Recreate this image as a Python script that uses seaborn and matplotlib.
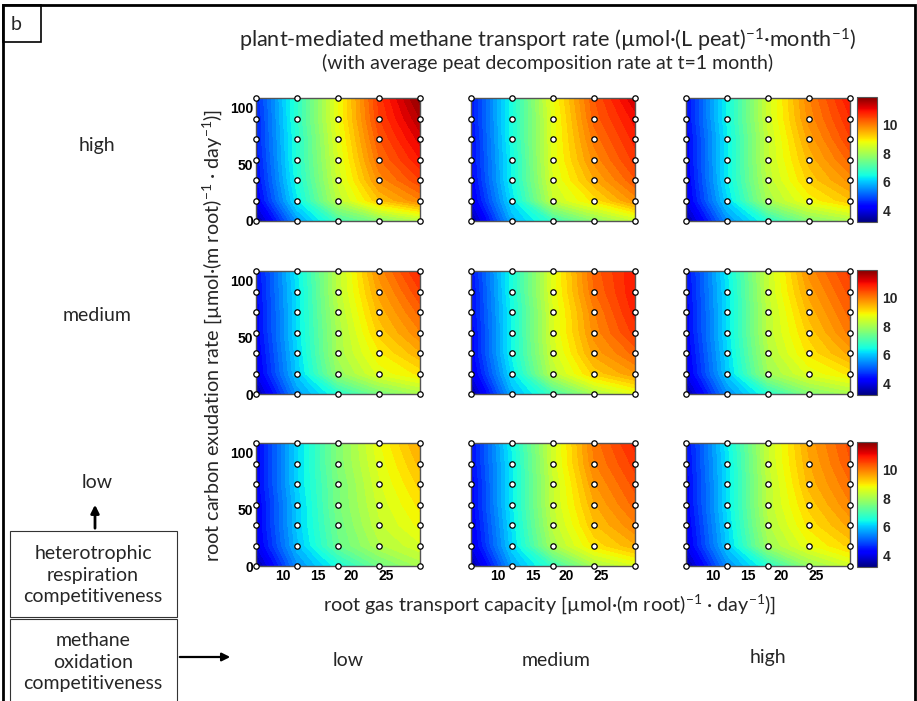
import numpy as np
import pandas as pd
import matplotlib
matplotlib.use("Agg")
import matplotlib.pyplot as plt
import seaborn as sns
from matplotlib.patches import Rectangle, FancyArrowPatch
from matplotlib.colors import Normalize
from matplotlib.cm import ScalarMappable

sns.set_style("white")
plt.rcParams['font.family'] = ['Lato', 'DejaVu Sans']
plt.rcParams['mathtext.default'] = 'regular'

# grid of the model runs
gas_capacity = [6, 12, 18, 24, 30]
exudation = [0, 18, 36, 54, 72, 90, 108]

# rows of each array go from exudation 0 (bottom) to 108 (top)
# heterotrophic respiration competitiveness: high
rate_high_low = [[3.4, 5.6, 6.9, 7.6, 8.1],
                 [4.1, 6.3, 8.2, 9.3, 9.9],
                 [4.3, 6.5, 8.4, 9.8, 10.5],
                 [4.4, 6.6, 8.5, 10.1, 10.9],
                 [4.5, 6.6, 8.6, 10.3, 11.2],
                 [4.5, 6.7, 8.7, 10.5, 11.5],
                 [4.6, 6.7, 8.7, 10.6, 11.8]]
rate_high_med = [[3.4, 5.8, 6.8, 7.7, 8.3],
                 [4.0, 6.2, 8.3, 9.0, 9.8],
                 [4.2, 6.4, 8.5, 9.5, 10.3],
                 [4.3, 6.4, 8.6, 9.8, 10.6],
                 [4.3, 6.5, 8.6, 10.0, 10.8],
                 [4.4, 6.5, 8.6, 10.2, 11.0],
                 [4.4, 6.5, 8.7, 10.3, 11.3]]
rate_high_high = [[3.4, 5.5, 6.6, 7.6, 8.0],
                  [4.0, 6.1, 8.0, 8.8, 9.3],
                  [4.1, 6.3, 8.2, 9.2, 9.8],
                  [4.2, 6.3, 8.3, 9.4, 10.2],
                  [4.2, 6.3, 8.3, 9.6, 10.5],
                  [4.3, 6.4, 8.4, 9.8, 10.7],
                  [4.3, 6.4, 8.4, 9.9, 10.9]]
# medium
rate_med_low = [[3.4, 5.6, 6.6, 7.5, 8.0],
                [4.0, 6.0, 7.8, 8.6, 9.0],
                [4.1, 6.1, 8.0, 8.9, 9.5],
                [4.2, 6.2, 8.0, 9.2, 9.9],
                [4.2, 6.2, 8.1, 9.4, 10.2],
                [4.3, 6.2, 8.2, 9.6, 10.5],
                [4.3, 6.3, 8.2, 9.8, 10.8]]
rate_med_med = [[3.4, 5.8, 6.9, 8.0, 8.6],
                [4.0, 6.2, 8.2, 9.2, 9.7],
                [4.2, 6.4, 8.4, 9.6, 10.2],
                [4.2, 6.4, 8.5, 9.8, 10.6],
                [4.3, 6.4, 8.5, 9.9, 10.8],
                [4.3, 6.5, 8.6, 10.1, 10.9],
                [4.4, 6.5, 8.6, 10.2, 10.9]]
rate_med_high = [[3.4, 5.5, 6.6, 7.6, 8.0],
                 [4.0, 6.0, 7.9, 8.6, 9.0],
                 [4.1, 6.1, 8.1, 9.0, 9.6],
                 [4.2, 6.2, 8.2, 9.2, 10.0],
                 [4.2, 6.2, 8.2, 9.4, 10.2],
                 [4.3, 6.2, 8.3, 9.6, 10.4],
                 [4.3, 6.3, 8.3, 9.8, 10.6]]
# low
rate_low_low = [[3.4, 5.5, 6.5, 7.4, 8.0],
                [4.0, 5.9, 7.3, 8.1, 8.5],
                [4.1, 6.0, 7.4, 8.3, 8.8],
                [4.1, 6.0, 7.5, 8.4, 9.0],
                [4.2, 6.1, 7.5, 8.5, 9.2],
                [4.2, 6.1, 7.6, 8.6, 9.4],
                [4.2, 6.1, 7.6, 8.7, 9.6]]
rate_low_med = [[3.4, 5.7, 6.8, 8.0, 8.5],
                [4.0, 6.1, 8.0, 9.0, 9.5],
                [4.1, 6.2, 8.2, 9.3, 9.9],
                [4.2, 6.3, 8.3, 9.5, 10.2],
                [4.2, 6.3, 8.3, 9.7, 10.4],
                [4.3, 6.3, 8.4, 9.9, 10.6],
                [4.3, 6.4, 8.4, 10.0, 10.8]]
rate_low_high = [[3.4, 5.5, 6.6, 7.8, 8.4],
                 [4.0, 6.0, 7.9, 8.7, 9.2],
                 [4.1, 6.1, 8.1, 9.0, 9.6],
                 [4.2, 6.2, 8.2, 9.2, 9.9],
                 [4.2, 6.2, 8.2, 9.4, 10.1],
                 [4.3, 6.2, 8.3, 9.5, 10.3],
                 [4.3, 6.3, 8.3, 9.6, 10.4]]

panels = [[rate_high_low, rate_high_med, rate_high_high],
          [rate_med_low, rate_med_med, rate_med_high],
          [rate_low_low, rate_low_med, rate_low_high]]

row_labels = ['high', 'medium', 'low']
col_labels = ['low', 'medium', 'high']
cbar_ticks = [4, 6, 8, 10]
x_ticks = [10, 15, 20, 25]
y_ticks = [0, 50, 100]

W, H = 917, 701
fig = plt.figure(figsize=(W / 100, H / 100), dpi=100)


def fx(x):
    return x / W


def fy(y):
    return 1 - y / H


def px_axes(x0, y0, x1, y1):
    return [fx(x0), fy(y1), fx(x1) - fx(x0), fy(y0) - fy(y1)]


cmap = matplotlib.colormaps['jet']
vmin, vmax = 3.2, 11.9
levels = np.linspace(vmin, vmax, 45)

col_left = [256, 471, 686]
row_top = [98, 271, 443]
pw, ph = 164, 123
tick_font = dict(fontweight='bold', fontsize=10, family='Liberation Sans')

X, Y = np.meshgrid(gas_capacity, exudation)
pts = pd.DataFrame({'gas': X.ravel(), 'exud': Y.ravel()})

for i in range(3):
    for j in range(3):
        ax = fig.add_axes(px_axes(col_left[j], row_top[i],
                                  col_left[j] + pw, row_top[i] + ph))
        Z = np.array(panels[i][j])
        ax.contourf(X, Y, Z, levels=levels, cmap=cmap, vmin=vmin, vmax=vmax,
                    extend='both')
        sns.scatterplot(data=pts, x='gas', y='exud', ax=ax, s=15,
                        color='white', edgecolor='black', linewidth=0.9,
                        legend=False, clip_on=False, zorder=5)
        ax.set_xlim(6, 30)
        ax.set_ylim(0, 108)
        ax.set_xticks(x_ticks)
        ax.set_yticks(y_ticks)
        ax.set_xlabel('')
        ax.set_ylabel('')
        ax.tick_params(direction='in', length=3, width=0.6, colors='#444444',
                       labelcolor='black', pad=2)
        if j != 0:
            ax.set_yticklabels([])
        else:
            ax.set_yticklabels([str(t) for t in y_ticks], **tick_font)
        if i != 2:
            ax.set_xticklabels([])
        else:
            ax.set_xticklabels([str(t) for t in x_ticks], **tick_font)
        for s in ax.spines.values():
            s.set_color('#555555')
            s.set_linewidth(1.0)

    # colorbar for the row
    cax = fig.add_axes(px_axes(857, row_top[i] - 1, 877, row_top[i] + ph + 1))
    sm = ScalarMappable(norm=Normalize(vmin, vmax), cmap=cmap)
    cb = fig.colorbar(sm, cax=cax, ticks=cbar_ticks)
    cb.outline.set_edgecolor('#555555')
    cb.outline.set_linewidth(0.8)
    cax.tick_params(direction='in', length=2, width=0.5, pad=4)
    cax.set_yticklabels([str(t) for t in cbar_ticks], **tick_font)

    fig.text(fx(97), fy(146 + 170 * i - (3 if i == 2 else 0)), row_labels[i],
             ha='center', va='center', fontsize=14)

# titles
fig.text(fx(548), fy(40),
         'plant-mediated methane transport rate (µmol·(L peat)$^{-1}$·month$^{-1}$)',
         ha='center', va='center', fontsize=15.6)
fig.text(fx(548), fy(63), '(with average peat decomposition rate at t=1 month)',
         ha='center', va='center', fontsize=14)

# axis labels
fig.text(fx(550), fy(604),
         'root gas transport capacity [µmol·(m root)$^{-1}$ · day$^{-1}$)]',
         ha='center', va='center', fontsize=14.2)
fig.text(fx(212), fy(335),
         'root carbon exudation rate [µmol·(m root)$^{-1}$ · day$^{-1}$)]',
         ha='center', va='center', rotation=90, fontsize=14.2)

# column labels for methane oxidation competitiveness
for x, y, lab in zip([348, 556, 768], [660, 660, 657], col_labels):
    fig.text(fx(x), fy(y), lab, ha='center', va='center', fontsize=14)

# frame and panel letter
fig.patches.append(Rectangle((fx(3), fy(703)), fx(912), fy(5) - fy(703),
                             transform=fig.transFigure, fill=False,
                             edgecolor='black', linewidth=2))
fig.patches.append(Rectangle((fx(3), fy(42)), fx(38), fy(5) - fy(42),
                             transform=fig.transFigure, fill=False,
                             edgecolor='black', linewidth=1.2))
fig.text(fx(16), fy(24), 'b', ha='center', va='center', fontsize=14)

# legend boxes in lower left
fig.patches.append(Rectangle((fx(10), fy(617)), fx(167), fy(531) - fy(617),
                             transform=fig.transFigure, fill=False,
                             edgecolor='#333333', linewidth=0.8))
fig.patches.append(Rectangle((fx(10), fy(705)), fx(167), fy(619) - fy(705),
                             transform=fig.transFigure, fill=False,
                             edgecolor='#333333', linewidth=0.8))
fig.text(fx(93), fy(575), 'heterotrophic\nrespiration\ncompetitiveness',
         ha='center', va='center', fontsize=14, linespacing=1.32)
fig.text(fx(93), fy(662), 'methane\noxidation\ncompetitiveness',
         ha='center', va='center', fontsize=14, linespacing=1.32)

# arrows
fig.patches.append(FancyArrowPatch(
    (fx(95), fy(531)), (fx(95), fy(502)), transform=fig.transFigure,
    arrowstyle='-|>', mutation_scale=12, linewidth=2, color='black'))
fig.patches.append(FancyArrowPatch(
    (fx(177), fy(657)), (fx(233), fy(657)), transform=fig.transFigure,
    arrowstyle='-|>', mutation_scale=12, linewidth=1.6, color='black'))

fig.savefig('out.png', dpi=100)
